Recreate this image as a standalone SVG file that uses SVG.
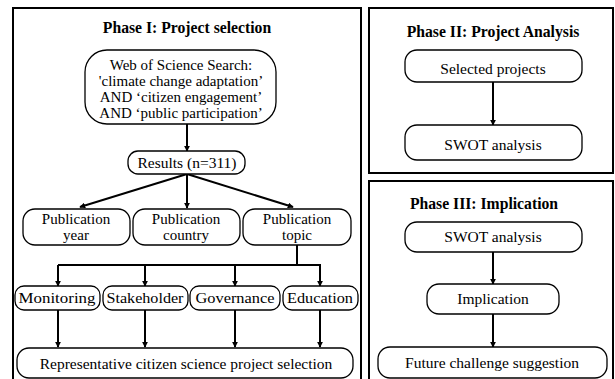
<svg xmlns="http://www.w3.org/2000/svg" width="615" height="379" viewBox="0 0 615 379" font-family="'Liberation Serif', 'Times New Roman', serif">
  <defs>
    <marker id="arrow" viewBox="0 0 8 8" refX="7" refY="4" markerWidth="6" markerHeight="6" orient="auto" markerUnits="userSpaceOnUse">
      <path d="M0,0 L8,4 L0,8 Z" fill="#000"/>
    </marker>
  </defs>
  <style>
    .title { font-family: "Liberation Serif", "Times New Roman", serif; font-size: 15.7px; font-weight: bold; text-anchor: middle; fill: #000; }
    .label { font-family: "Liberation Serif", "Times New Roman", serif; font-size: 15.5px; text-anchor: middle; fill: #000; }
    .multi { font-size: 15px; }
    .frame { fill: none; stroke: #000; stroke-width: 2; }
    .node { fill: #fff; stroke: #000; stroke-width: 1.3; }
    .conn { fill: none; stroke: #000; stroke-width: 2; }
    .arr { marker-end: url(#arrow); }
  </style>
  <rect width="615" height="379" fill="#fff"/>

  <!-- phase frames -->
  <g id="frames">
    <rect class="frame" x="13" y="8" width="348" height="380" stroke-width="2.5"/>
    <rect class="frame" x="369" y="8" width="244" height="165"/>
    <rect class="frame" x="369" y="181" width="244" height="210"/>
  </g>

  <g id="titles">
    <text class="title" x="187" y="33">Phase I: Project selection</text>
    <text class="title" x="493" y="37">Phase II: Project Analysis</text>
    <text class="title" x="484" y="209">Phase III: Implication</text>
  </g>

  <!-- connectors -->
  <g id="connectors">
    <line class="conn arr" x1="187" y1="124" x2="187" y2="151"/>
    <line class="conn arr" x1="187" y1="174" x2="80" y2="207"/>
    <line class="conn arr" x1="187" y1="174" x2="187" y2="208"/>
    <line class="conn arr" x1="187" y1="174" x2="293" y2="207"/>
    <polyline class="conn" points="297,245 297,265"/>
    <line class="conn" x1="58" y1="265" x2="320" y2="265"/>
    <line class="conn arr" x1="58" y1="265" x2="58" y2="286"/>
    <line class="conn arr" x1="145" y1="265" x2="145" y2="286"/>
    <line class="conn arr" x1="235" y1="265" x2="235" y2="286"/>
    <line class="conn arr" x1="320" y1="264" x2="320" y2="286"/>
    <line class="conn arr" x1="58" y1="310" x2="58" y2="347"/>
    <line class="conn arr" x1="145" y1="310" x2="145" y2="347"/>
    <line class="conn arr" x1="235" y1="310" x2="235" y2="347"/>
    <line class="conn arr" x1="320" y1="310" x2="320" y2="347"/>
    <line class="conn arr" x1="493" y1="82" x2="493" y2="125"/>
    <line class="conn arr" x1="493" y1="252" x2="493" y2="284"/>
    <line class="conn arr" x1="493" y1="314" x2="493" y2="347"/>
  </g>

  <!-- Phase I nodes -->
  <g id="search">
    <rect class="node" x="85" y="50" width="191" height="74" rx="22"/>
    <text class="label multi" x="181" y="70">Web of Science Search:</text>
    <text class="label multi" x="181" y="86">'climate change adaptation’</text>
    <text class="label multi" x="181" y="102">AND ‘citizen engagement’</text>
    <text class="label multi" x="181" y="118">AND ‘public participation’</text>
  </g>
  <g id="results">
    <rect class="node" x="128" y="151" width="117" height="23" rx="10"/>
    <text class="label" x="187" y="168">Results (n=311)</text>
  </g>
  <g id="pub-year">
    <rect class="node" x="23" y="209" width="107" height="36" rx="12"/>
    <text class="label multi" x="76" y="224">Publication</text>
    <text class="label multi" x="76" y="240">year</text>
  </g>
  <g id="pub-country">
    <rect class="node" x="133" y="209" width="107" height="36" rx="12"/>
    <text class="label multi" x="186" y="224">Publication</text>
    <text class="label multi" x="186" y="240">country</text>
  </g>
  <g id="pub-topic">
    <rect class="node" x="243" y="209" width="108" height="36" rx="12"/>
    <text class="label multi" x="297" y="224">Publication</text>
    <text class="label multi" x="297" y="240">topic</text>
  </g>
  <g id="monitoring">
    <rect class="node" x="15" y="286" width="85" height="24" rx="9"/>
    <text class="label" x="57" y="303" textLength="77" lengthAdjust="spacingAndGlyphs">Monitoring</text>
  </g>
  <g id="stakeholder">
    <rect class="node" x="103" y="286" width="85" height="24" rx="9"/>
    <text class="label" x="145" y="303" textLength="77" lengthAdjust="spacingAndGlyphs">Stakeholder</text>
  </g>
  <g id="governance">
    <rect class="node" x="190" y="286" width="90" height="24" rx="9"/>
    <text class="label" x="235" y="303" textLength="79" lengthAdjust="spacingAndGlyphs">Governance</text>
  </g>
  <g id="education">
    <rect class="node" x="283" y="286" width="75" height="24" rx="9"/>
    <text class="label" x="320" y="303" textLength="66" lengthAdjust="spacingAndGlyphs">Education</text>
  </g>
  <g id="selection">
    <rect class="node" x="17" y="348" width="336" height="30" rx="12"/>
    <text class="label" x="186" y="369" font-size="16">Representative citizen science project selection</text>
  </g>

  <!-- Phase II nodes -->
  <g id="selected-projects">
    <rect class="node" x="405" y="50" width="177" height="32" rx="12"/>
    <text class="label" x="493" y="74">Selected projects</text>
  </g>
  <g id="swot-2">
    <rect class="node" x="405" y="125" width="177" height="35" rx="12"/>
    <text class="label" x="493" y="150">SWOT analysis</text>
  </g>

  <!-- Phase III nodes -->
  <g id="swot-3">
    <rect class="node" x="405" y="222" width="177" height="30" rx="12"/>
    <text class="label" x="493" y="242">SWOT analysis</text>
  </g>
  <g id="implication">
    <rect class="node" x="427" y="284" width="132" height="30" rx="12"/>
    <text class="label" x="493" y="304">Implication</text>
  </g>
  <g id="future">
    <rect class="node" x="378" y="347" width="229" height="31" rx="12"/>
    <text class="label" x="492" y="368">Future challenge suggestion</text>
  </g>
</svg>
